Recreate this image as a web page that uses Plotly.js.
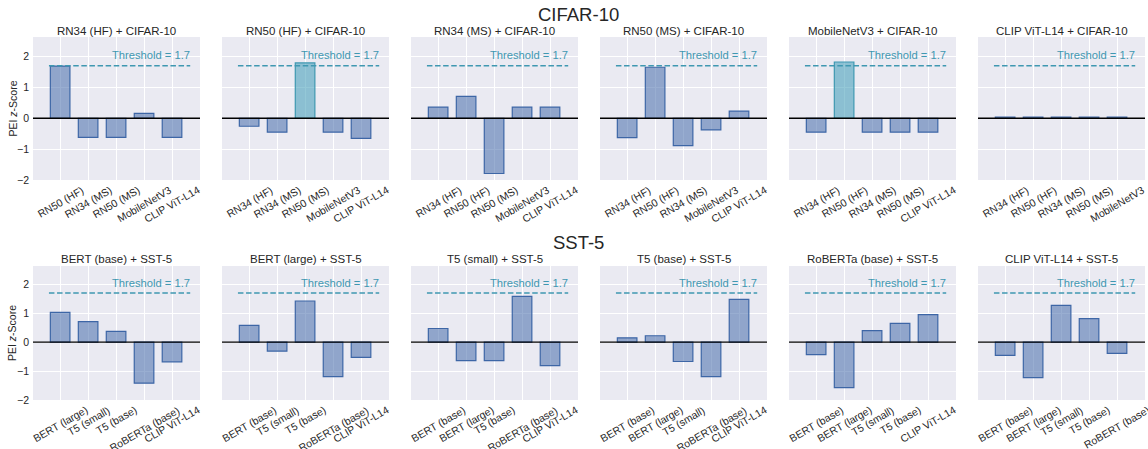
<!DOCTYPE html>
<html>
<head>
<meta charset="utf-8">
<script src="https://cdn.plot.ly/plotly-3.0.1.min.js"></script>
<style>
html,body{margin:0;padding:0;background:#fff;}
#chart{width:1148px;height:449px;}
</style>
</head>
<body>
<div id="chart"></div>
<script>
// ---- data ----
const threshold = 1.7;
const rowTitles = ["CIFAR-10", "SST-5"];
const yAxisLabel = "PEI <i>z</i>-Score";

const panelTitles = [
  "RN34 (HF) + CIFAR-10", "RN50 (HF) + CIFAR-10", "RN34 (MS) + CIFAR-10",
  "RN50 (MS) + CIFAR-10", "MobileNetV3 + CIFAR-10", "CLIP ViT-L14 + CIFAR-10",
  "BERT (base) + SST-5", "BERT (large) + SST-5", "T5 (small) + SST-5",
  "T5 (base) + SST-5", "RoBERTa (base) + SST-5", "CLIP ViT-L14 + SST-5"
];

const cats_rn34hf = ["RN50 (HF)", "RN34 (MS)", "RN50 (MS)", "MobileNetV3", "CLIP ViT-L14"];
const vals_rn34hf = [1.69, -0.62, -0.62, 0.16, -0.62];
const cats_rn50hf = ["RN34 (HF)", "RN34 (MS)", "RN50 (MS)", "MobileNetV3", "CLIP ViT-L14"];
const vals_rn50hf = [-0.26, -0.45, 1.79, -0.45, -0.65];
const cats_rn34ms = ["RN34 (HF)", "RN50 (HF)", "RN50 (MS)", "MobileNetV3", "CLIP ViT-L14"];
const vals_rn34ms = [0.36, 0.71, -1.79, 0.36, 0.36];
const cats_rn50ms = ["RN34 (HF)", "RN50 (HF)", "RN34 (MS)", "MobileNetV3", "CLIP ViT-L14"];
const vals_rn50ms = [-0.63, 1.65, -0.89, -0.38, 0.23];
const cats_mnv3 = ["RN34 (HF)", "RN50 (HF)", "RN34 (MS)", "RN50 (MS)", "CLIP ViT-L14"];
const vals_mnv3 = [-0.45, 1.82, -0.45, -0.45, -0.45];
const cats_clipc = ["RN34 (HF)", "RN50 (HF)", "RN34 (MS)", "RN50 (MS)", "MobileNetV3"];
const vals_clipc = [0.04, 0.04, 0.04, 0.04, 0.04];

const cats_bertb = ["BERT (large)", "T5 (small)", "T5 (base)", "RoBERTa (base)", "CLIP ViT-L14"];
const vals_bertb = [1.03, 0.71, 0.37, -1.42, -0.68];
const cats_bertl = ["BERT (base)", "T5 (small)", "T5 (base)", "RoBERTa (base)", "CLIP ViT-L14"];
const vals_bertl = [0.58, -0.31, 1.42, -1.19, -0.53];
const cats_t5s = ["BERT (base)", "BERT (large)", "T5 (base)", "RoBERTa (base)", "CLIP ViT-L14"];
const vals_t5s = [0.47, -0.64, -0.64, 1.58, -0.81];
const cats_t5b = ["BERT (base)", "BERT (large)", "T5 (small)", "RoBERTa (base)", "CLIP ViT-L14"];
const vals_t5b = [0.15, 0.22, -0.67, -1.19, 1.48];
const cats_rob = ["BERT (base)", "BERT (large)", "T5 (small)", "T5 (base)", "CLIP ViT-L14"];
const vals_rob = [-0.43, -1.57, 0.40, 0.65, 0.95];
const cats_clips = ["BERT (base)", "BERT (large)", "T5 (small)", "T5 (base)", "RoBERT (base)"];
const vals_clips = [-0.46, -1.23, 1.27, 0.81, -0.39];

const panelCats = [cats_rn34hf, cats_rn50hf, cats_rn34ms, cats_rn50ms, cats_mnv3, cats_clipc,
                   cats_bertb, cats_bertl, cats_t5s, cats_t5b, cats_rob, cats_clips];
const panelVals = [vals_rn34hf, vals_rn50hf, vals_rn34ms, vals_rn50ms, vals_mnv3, vals_clipc,
                   vals_bertb, vals_bertl, vals_t5s, vals_t5b, vals_rob, vals_clips];

// ---- styling ----
const W = 1148, H = 449;
const colLeft = [33, 222, 411, 600, 789, 978];
const colW = 167;
const rowTop = [37, 266], rowBot = [180, 400];
const titleY = [31, 259], supY = [14, 242];
const txt = "#262626";
const teal = "#3f98b1";
const fontFam = "Liberation Sans, Arial, sans-serif";

const traces = [], shapes = [], annotations = [];
const layout = {
  width: W, height: H,
  margin: {l: 0, r: 0, t: 0, b: 0},
  paper_bgcolor: "#ffffff",
  plot_bgcolor: "#eaeaf2",
  showlegend: false,
  font: {family: fontFam, color: txt, size: 10.5},
  bargap: 0.3
};

for (let i = 0; i < 12; i++) {
  const row = Math.floor(i / 6), col = i % 6;
  const n = i + 1;
  const xk = n === 1 ? "xaxis" : "xaxis" + n;
  const yk = n === 1 ? "yaxis" : "yaxis" + n;
  const xr = n === 1 ? "x" : "x" + n;
  const yr = n === 1 ? "y" : "y" + n;
  const cats = panelCats[i];
  const vals = panelVals[i];
  const hi = vals.map(v => v > threshold);
  traces.push({
    type: "bar",
    x: cats, y: vals,
    xaxis: xr, yaxis: yr,
    width: 0.7,
    marker: {
      color: hi.map(h => h ? "rgba(70,160,186,0.58)" : "rgba(70,108,172,0.55)"),
      line: {color: hi.map(h => h ? "#3f98b1" : "#3d66a6"), width: 1.2}
    },
    hoverinfo: "x+y"
  });
  layout[xk] = {
    domain: [colLeft[col] / W, (colLeft[col] + colW) / W],
    anchor: yr, type: "category",
    categoryorder: "array", categoryarray: cats,
    range: [-0.97, 5.0],
    showgrid: true, gridcolor: "#ffffff", gridwidth: 1,
    zeroline: false, showline: false, ticks: "",
    showticklabels: false,
    fixedrange: true
  };
  layout[yk] = {
    domain: [1 - rowBot[row] / H, 1 - rowTop[row] / H],
    anchor: xr,
    range: [-2, 2.63],
    tickvals: [-2, -1, 0, 1, 2],
    showgrid: true, gridcolor: "#ffffff", gridwidth: 1,
    zeroline: false, showline: false, ticks: "",
    showticklabels: col === 0,
    tickfont: {size: 10.5, color: txt, family: fontFam},
    ticklabelstandoff: 3,
    fixedrange: true
  };
  // rotated category labels, centred under each category (matplotlib-style)
  cats.forEach((c, k) => {
    annotations.push({xref: xr, yref: yr + " domain", x: k, y: 0,
      xanchor: "center", yanchor: "top", yshift: -1,
      text: c, textangle: -30, showarrow: false,
      font: {size: 10.5, color: txt, family: fontFam}});
  });
  if (col === 0) {
    annotations.push({xref: "paper", yref: yr + " domain", x: 12 / W, y: 0.5,
      xanchor: "center", yanchor: "middle", text: yAxisLabel, textangle: -90, showarrow: false,
      font: {size: 10.5, color: txt, family: fontFam}});
  }
  // zero line
  shapes.push({type: "line", xref: xr + " domain", yref: yr, x0: 0, x1: 1, y0: 0, y1: 0,
    line: {color: "#000000", width: 1.3}, layer: "above"});
  // threshold line
  shapes.push({type: "line", xref: xr, yref: yr, x0: -0.4, x1: 4.65, y0: threshold, y1: threshold,
    line: {color: teal, width: 1.5, dash: "5.5px,2.6px"}, layer: "above"});
  annotations.push({xref: xr, yref: yr, x: 4.72, y: 2.05, xanchor: "right", yanchor: "middle",
    text: "Threshold = " + threshold, showarrow: false,
    font: {size: 11.2, color: teal, family: fontFam}});
  annotations.push({xref: "paper", yref: "paper",
    x: (colLeft[col] + colW / 2) / W, y: 1 - titleY[row] / H,
    xanchor: "center", yanchor: "middle", text: panelTitles[i], showarrow: false,
    font: {size: 11.5, color: txt, family: fontFam}});
}
for (let r = 0; r < 2; r++) {
  annotations.push({xref: "paper", yref: "paper", x: 578 / W, y: 1 - supY[r] / H,
    xanchor: "center", yanchor: "middle", text: rowTitles[r], showarrow: false,
    font: {size: 18.5, color: txt, family: fontFam}});
}
layout.shapes = shapes;
layout.annotations = annotations;

Plotly.newPlot("chart", traces, layout, {displayModeBar: false, staticPlot: true});
</script>
</body>
</html>
